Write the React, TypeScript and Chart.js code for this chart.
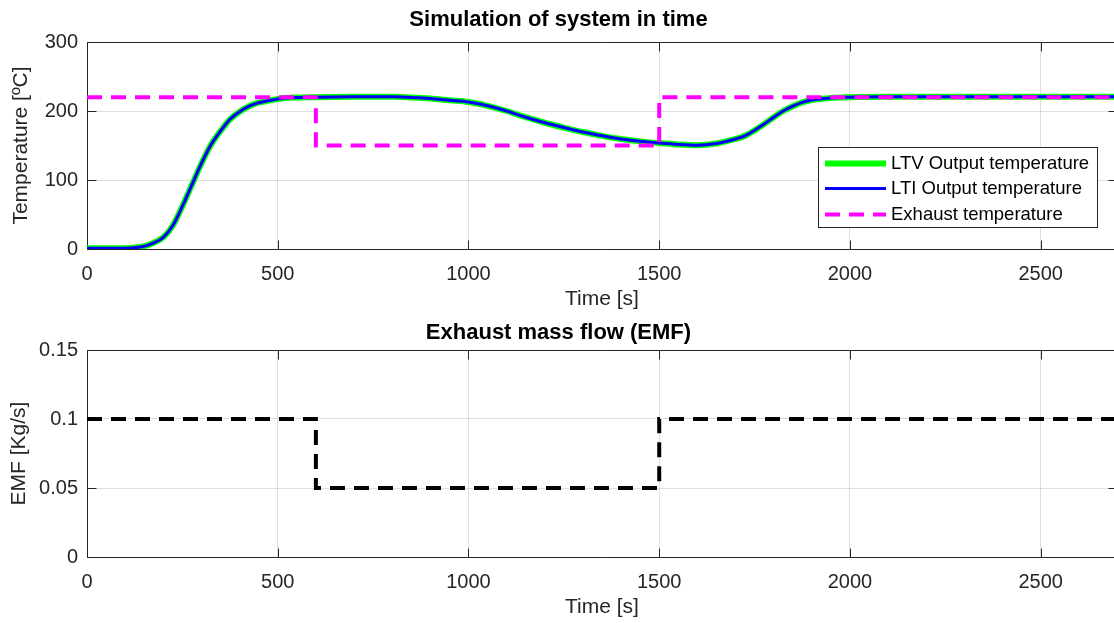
import React, { useEffect, useRef } from "react";
import { Chart, registerables } from "chart.js";

Chart.register(...registerables);

// ---------- data ----------
const TIME = [0, 50, 100, 150, 175, 200, 225, 250, 275, 300, 325, 350, 375, 400, 425, 450, 500, 550, 600, 700, 800, 850, 900, 950, 1000, 1050, 1100, 1150, 1200, 1250, 1300, 1350, 1400, 1450, 1500, 1550, 1600, 1650, 1700, 1725, 1750, 1775, 1800, 1825, 1850, 1875, 1900, 1950, 2000, 2100, 2700];
const LTV_TEMP = [1, 1, 1.2, 4, 9, 17, 34, 62, 93, 124, 151, 171, 188, 199, 207, 212, 217.5, 219.5, 220, 220.5, 220.5, 219.5, 218, 215.5, 213, 207.5, 200, 191, 183, 176, 169.5, 164, 159.5, 156, 153.5, 151.5, 150.5, 153, 159.5, 164, 172, 181, 191, 200, 207, 212.5, 216, 219, 220, 220.5, 220.5];
const LTI_TEMP = [1, 1, 1.2, 4, 9, 17, 34, 62, 93, 124, 151, 171, 188, 199, 207, 212, 217.5, 219.5, 220, 220.5, 220.5, 219.5, 218, 215.5, 213, 207.5, 200, 191, 183, 176, 169.5, 164, 159.5, 156, 153.5, 151.5, 150.5, 153, 159.5, 164, 172, 181, 191, 200, 207, 212.5, 216, 219, 220, 220.5, 220.5];
const STEP_TIME = [0, 600, 600, 1500, 1500, 2700];
const EXHAUST_TEMP = [220, 220, 150, 150, 220, 220];
const EMF = [0.1, 0.1, 0.05, 0.05, 0.1, 0.1];

const X_TICKS = [0, 500, 1000, 1500, 2000, 2500];
const X_TICK_LABELS = ["0", "500", "1000", "1500", "2000", "2500"];
const TEMP_TICKS = [0, 100, 200, 300];
const TEMP_TICK_LABELS = ["0", "100", "200", "300"];
const EMF_TICKS = [0, 0.05, 0.1, 0.15];
const EMF_TICK_LABELS = ["0", "0.05", "0.1", "0.15"];

const SERIES_LABELS = ["LTV Output temperature", "LTI Output temperature", "Exhaust temperature"];

// ---------- styling ----------
const FONT = "'Liberation Sans', Arial, Helvetica, sans-serif";
const AXIS_COLOR = "#262626";
const GRID_COLOR = "rgba(38,38,38,0.15)";
const CANVAS_W = 1117;

const toPoints = (xs: number[], ys: number[]) => xs.map((x, i) => ({ x, y: ys[i] }));

const matlabBox = {
  id: "matlabBox",
  beforeDatasetsDraw(chart: any) {
    const { ctx, chartArea: a, scales } = chart;
    ctx.save();
    ctx.strokeStyle = AXIS_COLOR;
    ctx.lineWidth = 1;
    ctx.beginPath();
    const l = Math.round(a.left) + 0.5;
    const t = Math.round(a.top) + 0.5;
    const r = Math.round(a.right) + 0.5;
    const b = Math.round(a.bottom) + 0.5;
    ctx.moveTo(l, t);
    ctx.lineTo(r, t);
    ctx.lineTo(r, b);
    ctx.lineTo(l, b);
    ctx.closePath();
    const L = 9;
    scales.x.ticks.forEach((tk: any) => {
      const px = Math.round(scales.x.getPixelForValue(tk.value)) + 0.5;
      ctx.moveTo(px, b);
      ctx.lineTo(px, b - L);
      ctx.moveTo(px, t);
      ctx.lineTo(px, t + L);
    });
    scales.y.ticks.forEach((tk: any) => {
      const py = Math.round(scales.y.getPixelForValue(tk.value)) + 0.5;
      ctx.moveTo(l, py);
      ctx.lineTo(l + L, py);
      ctx.moveTo(r, py);
      ctx.lineTo(r - L, py);
    });
    ctx.stroke();
    ctx.restore();
  },
};

const matlabLegend = {
  id: "matlabLegend",
  afterDraw(chart: any, _args: any, opts: any) {
    if (!opts || !opts.show) return;
    const { ctx, chartArea: a } = chart;
    const w = 279;
    const h = 80;
    const x0 = Math.round(a.right - 20 - w);
    const y0 = Math.round(a.bottom - 22 - h);
    ctx.save();
    ctx.fillStyle = "#ffffff";
    ctx.fillRect(x0, y0, w, h);
    ctx.strokeStyle = AXIS_COLOR;
    ctx.lineWidth = 1;
    ctx.strokeRect(x0 + 0.5, y0 + 0.5, w, h);
    ctx.font = `18.5px ${FONT}`;
    ctx.textBaseline = "middle";
    ctx.textAlign = "left";
    const rows = [16, 41, 67];
    chart.data.datasets.forEach((ds: any, i: number) => {
      const y = y0 + rows[i] + 0.5;
      ctx.beginPath();
      ctx.strokeStyle = ds.borderColor;
      ctx.lineWidth = ds.borderWidth;
      ctx.setLineDash(ds.borderDash || []);
      ctx.moveTo(x0 + 7, y);
      ctx.lineTo(x0 + 68, y);
      ctx.stroke();
      ctx.setLineDash([]);
      ctx.fillStyle = "#000000";
      ctx.fillText(ds.label, x0 + 73, y);
    });
    ctx.restore();
  },
};

function makeConfig(p: {
  title: string;
  titlePad: { top: number; bottom: number };
  yTitle: string;
  yTitlePad: number;
  yMin: number;
  yMax: number;
  yTicks: number[];
  yTickLabels: string[];
  datasets: any[];
  legend: boolean;
}): any {
  return {
    type: "line",
    data: { datasets: p.datasets },
    plugins: [matlabBox, matlabLegend],
    options: {
      responsive: false,
      animation: false,
      devicePixelRatio: 1,
      layout: { padding: 0 },
      parsing: true,
      elements: { point: { radius: 0 } },
      plugins: {
        legend: { display: false },
        tooltip: { enabled: false },
        title: {
          display: true,
          text: p.title,
          color: "#000000",
          font: { family: FONT, size: 22, weight: "bold", lineHeight: 1.2 },
          padding: p.titlePad,
        },
        matlabLegend: { show: p.legend },
      },
      scales: {
        x: {
          type: "linear",
          min: 0,
          max: 2700,
          afterBuildTicks: (scale: any) => {
            scale.ticks = X_TICKS.map((v) => ({ value: v }));
          },
          afterFit: (scale: any) => {
            scale.height = 63;
          },
          ticks: {
            padding: 13,
            color: AXIS_COLOR,
            font: { family: FONT, size: 20 },
            maxRotation: 0,
            autoSkip: false,
            callback: (_v: any, i: number) => X_TICK_LABELS[i],
          },
          grid: { color: GRID_COLOR, drawTicks: false, lineWidth: 1 },
          border: { display: false },
          title: {
            display: true,
            text: "Time [s]",
            color: AXIS_COLOR,
            font: { family: FONT, size: 21, lineHeight: 1.2 },
            padding: { top: 0, bottom: 0 },
          },
        },
        y: {
          type: "linear",
          min: p.yMin,
          max: p.yMax,
          afterBuildTicks: (scale: any) => {
            scale.ticks = p.yTicks.map((v) => ({ value: v }));
          },
          afterFit: (scale: any) => {
            scale.width = 87;
          },
          ticks: {
            padding: 9,
            color: AXIS_COLOR,
            font: { family: FONT, size: 20 },
            autoSkip: false,
            callback: (_v: any, i: number) => p.yTickLabels[i],
          },
          grid: { color: GRID_COLOR, drawTicks: false, lineWidth: 1 },
          border: { display: false },
          title: {
            display: true,
            text: p.yTitle,
            color: AXIS_COLOR,
            font: { family: FONT, size: 21, lineHeight: 1.2 },
            padding: { top: p.yTitlePad, bottom: 0 },
          },
        },
      },
    },
  };
}

function Panel({ top, height, config }: { top: number; height: number; config: () => any }) {
  const ref = useRef<HTMLCanvasElement>(null);
  useEffect(() => {
    const chart = new Chart(ref.current as HTMLCanvasElement, config());
    return () => chart.destroy();
  }, []);
  return (
    <canvas
      ref={ref}
      width={CANVAS_W}
      height={height}
      style={{ position: "absolute", left: 0, top, width: CANVAS_W, height, display: "block" }}
    />
  );
}

const topConfig = () =>
  makeConfig({
    title: "Simulation of system in time",
    titlePad: { top: 7, bottom: 8.6 },
    yTitle: "Temperature [ºC]",
    yTitlePad: 8.6,
    yMin: 0,
    yMax: 300,
    yTicks: TEMP_TICKS,
    yTickLabels: TEMP_TICK_LABELS,
    legend: true,
    datasets: [
      {
        label: SERIES_LABELS[0],
        data: toPoints(TIME, LTV_TEMP),
        borderColor: "#00ff00",
        borderWidth: 6,
        cubicInterpolationMode: "monotone",
        order: 3,
      },
      {
        label: SERIES_LABELS[1],
        data: toPoints(TIME, LTI_TEMP),
        borderColor: "#0000ff",
        borderWidth: 3,
        cubicInterpolationMode: "monotone",
        order: 2,
      },
      {
        label: SERIES_LABELS[2],
        data: toPoints(STEP_TIME, EXHAUST_TEMP),
        borderColor: "#ff00ff",
        borderWidth: 4,
        borderDash: [15, 9],
        tension: 0,
        order: 1,
      },
    ],
  });

const bottomConfig = () =>
  makeConfig({
    title: "Exhaust mass flow (EMF)",
    titlePad: { top: 7.8, bottom: 3.8 },
    yTitle: "EMF [Kg/s]",
    yTitlePad: 6.6,
    yMin: 0,
    yMax: 0.15,
    yTicks: EMF_TICKS,
    yTickLabels: EMF_TICK_LABELS,
    legend: false,
    datasets: [
      {
        label: "EMF",
        data: toPoints(STEP_TIME, EMF),
        borderColor: "#000000",
        borderWidth: 4,
        borderDash: [15, 9],
        tension: 0,
      },
    ],
  });

export default function App() {
  return (
    <div
      style={{
        position: "absolute",
        left: 0,
        top: 0,
        width: 1114,
        height: 623,
        overflow: "hidden",
        background: "#ffffff",
      }}
    >
      <Panel top={0} height={312} config={topConfig} />
      <Panel top={312} height={308} config={bottomConfig} />
    </div>
  );
}
